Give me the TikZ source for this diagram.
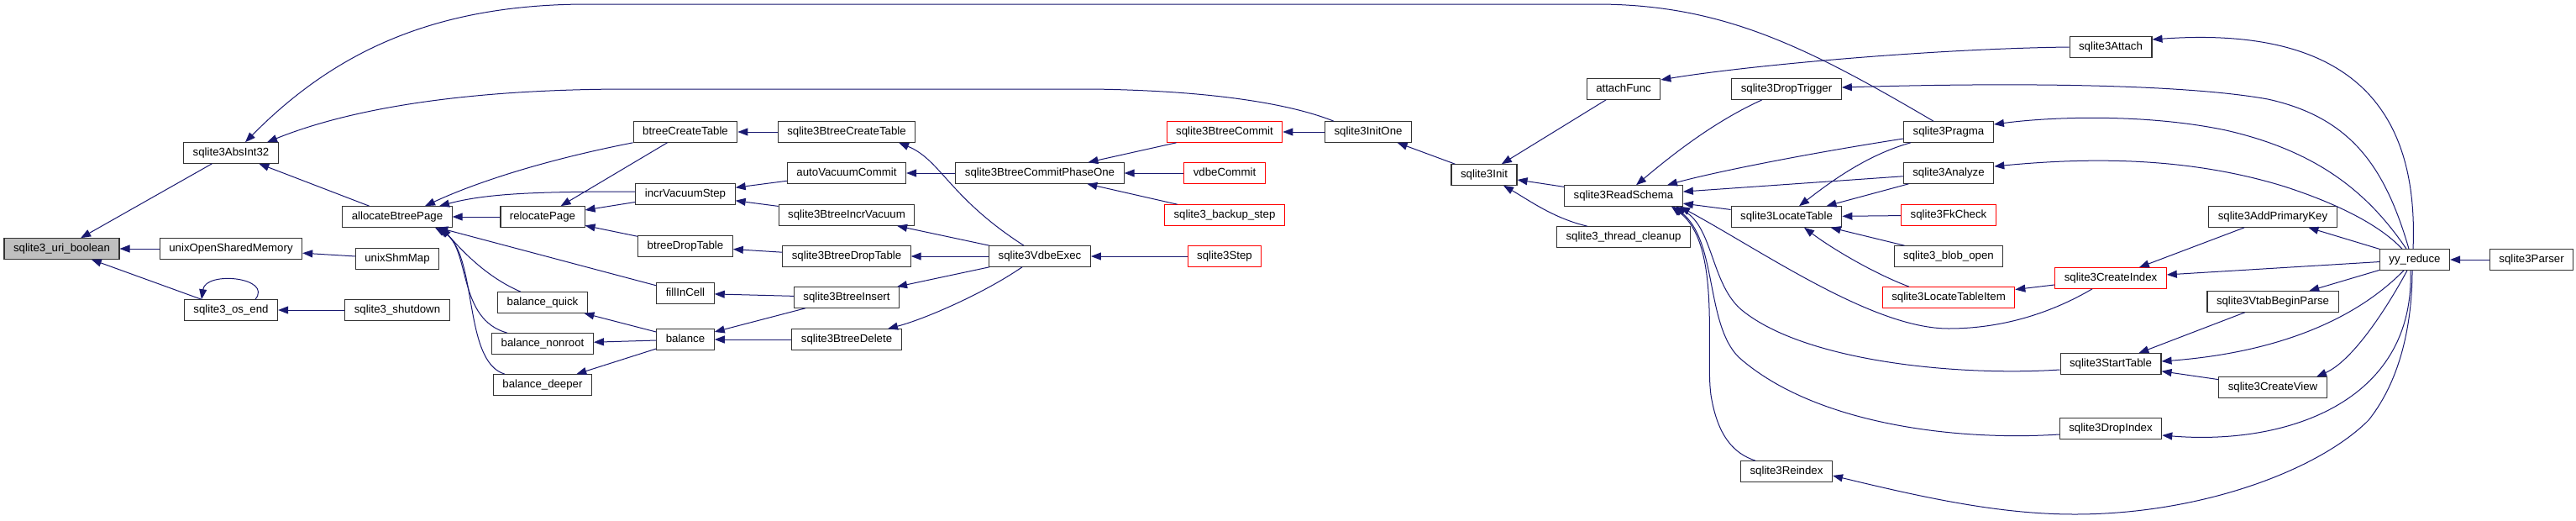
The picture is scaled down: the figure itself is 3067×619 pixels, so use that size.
\documentclass[tikz,border=0pt]{standalone}
\usepackage{fontspec}
\setmainfont{Liberation Sans}
\setsansfont{Liberation Sans}
\usetikzlibrary{arrows.meta}
\definecolor{ink}{HTML}{333333}
\definecolor{edgeblue}{HTML}{191970}
\definecolor{hotred}{HTML}{FF0000}
\definecolor{current}{HTML}{BFBFBF}

\begin{document}
\begin{tikzpicture}[
    x=1pt, y=-1pt,
    font={\sffamily\fontsize{13.25}{15}\selectfont},
    fn/.style={
        draw=ink,
        line width=1.1pt,
        fill=white,
        inner xsep=11pt,
        inner ysep=0pt,
        minimum height=24.5pt,
        text height=9.6pt,
        text depth=2.8pt
    },
    redfn/.style={fn, draw=hotred},
    curfn/.style={fn, fill=current},
    call/.style={draw=edgeblue, line width=1pt, {Triangle[length=12pt,width=9pt]}-}
]
\useasboundingbox (0,0) rectangle (3067,619);

% Function boxes, one column per rank.
\node[curfn] (uri) at (73.5,296) {sqlite3\_uri\_boolean};

\node[fn] (absint) at (275,182) {sqlite3AbsInt32};
\node[fn] (unixosm) at (275,296) {unixOpenSharedMemory};
\node[fn] (osend) at (275,369) {sqlite3\_os\_end};

\node[fn] (alloc) at (473,258) {allocateBtreePage};
\node[fn] (shmmap) at (473,308) {unixShmMap};
\node[fn] (shutdown) at (473,369) {sqlite3\_shutdown};

\node[fn] (relocate) at (646,258) {relocatePage};
\node[fn] (bquick) at (646,360) {balance\_quick};
\node[fn] (bnonroot) at (646,409) {balance\_nonroot};
\node[fn] (bdeeper) at (646,458) {balance\_deeper};

\node[fn] (bcreate) at (816,157) {btreeCreateTable};
\node[fn] (incrvac) at (816,231) {incrVacuumStep};
\node[fn] (bdrop) at (816,293) {btreeDropTable};
\node[fn] (fillcell) at (816,349) {fillInCell};
\node[fn] (balance) at (816,404) {balance};

\node[fn] (sbcreate) at (1008,157) {sqlite3BtreeCreateTable};
\node[fn] (autovac) at (1008,206) {autoVacuumCommit};
\node[fn] (sbincr) at (1008,256) {sqlite3BtreeIncrVacuum};
\node[fn] (sbdrop) at (1008,305) {sqlite3BtreeDropTable};
\node[fn] (sbinsert) at (1008,354) {sqlite3BtreeInsert};
\node[fn] (sbdelete) at (1008,404) {sqlite3BtreeDelete};

\node[fn] (phaseone) at (1238,206) {sqlite3BtreeCommitPhaseOne};
\node[fn] (vdbeexec) at (1238,305) {sqlite3VdbeExec};

\node[redfn] (bcommit) at (1458,157) {sqlite3BtreeCommit};
\node[redfn] (vdbecommit) at (1458,206) {vdbeCommit};
\node[redfn] (backup) at (1458,256) {sqlite3\_backup\_step};
\node[redfn] (step) at (1458,305) {sqlite3Step};

\node[fn] (initone) at (1629,157) {sqlite3InitOne};
\node[fn] (init) at (1767,208) {sqlite3Init};

\node[fn] (attachfn) at (1933,106) {attachFunc};
\node[fn] (rschema) at (1933,233) {sqlite3ReadSchema};
\node[fn] (cleanup) at (1933,282) {sqlite3\_thread\_cleanup};

\node[fn] (droptrig) at (2127,106) {sqlite3DropTrigger};
\node[fn] (locate) at (2127,258) {sqlite3LocateTable};
\node[fn] (reindex) at (2127,561) {sqlite3Reindex};

\node[fn] (pragma) at (2320,157) {sqlite3Pragma};
\node[fn] (analyze) at (2320,206) {sqlite3Analyze};
\node[redfn] (fkcheck) at (2320,256) {sqlite3FkCheck};
\node[fn] (blobopen) at (2320,305) {sqlite3\_blob\_open};
\node[redfn] (locitem) at (2320,354) {sqlite3LocateTableItem};

\node[fn] (attach) at (2513,56) {sqlite3Attach};
\node[redfn] (createidx) at (2513,331) {sqlite3CreateIndex};
\node[fn] (starttab) at (2513,433) {sqlite3StartTable};
\node[fn] (dropidx) at (2513,510) {sqlite3DropIndex};

\node[fn] (addpk) at (2706,258) {sqlite3AddPrimaryKey};
\node[fn] (vtabparse) at (2706,359) {sqlite3VtabBeginParse};
\node[fn] (createview) at (2706,461) {sqlite3CreateView};

\node[fn] (yyreduce) at (2875,309) {yy\_reduce};
\node[fn] (parser) at (3014,309) {sqlite3Parser};

% Callers of sqlite3_uri_boolean and its neighbours.
\draw[call] (uri) -- (absint);
\draw[call] (uri) -- (unixosm);
\draw[call] (uri) -- (osend);
\draw[call] ([xshift=-35pt]osend.north) .. controls (245,322) and (325,330) .. ([xshift=29pt]osend.north);
\draw[call] (osend) -- (shutdown);
\draw[call] (unixosm) -- (shmmap);
\draw[call] (absint) -- (alloc);
\draw[call] ([xshift=17pt]absint.north) .. controls (400,60) and (520,5) .. (700,5) -- (1900,5)
    .. controls (2050,5) and (2150,55) .. ([xshift=-18pt]pragma.north);
\draw[call] ([xshift=43pt]absint.north) .. controls (420,128) and (560,106) .. (750,106) -- (1300,106)
    .. controls (1450,108) and (1540,125) .. ([xshift=-41pt]initone.north);

% Callers of allocateBtreePage.
\draw[call] ([xshift=33pt]alloc.north) .. controls (560,220) and (640,192) .. (bcreate.south west);
\draw[call] ([xshift=50pt]alloc.north) .. controls (580,230) and (640,228) .. ([yshift=3pt]incrvac.west);
\draw[call] (alloc) -- (relocate);
\draw[call] (alloc) -- (fillcell);
\draw[call] ([xshift=52pt]alloc.south) .. controls (545,292) and (575,328) .. ([xshift=-26pt]bquick.north);
\draw[call] ([xshift=49pt]alloc.south) .. controls (560,300) and (545,380) .. ([xshift=-42pt]bnonroot.north);
\draw[call] ([xshift=45pt]alloc.south) .. controls (570,300) and (550,430) .. ([xshift=-45pt]bdeeper.north);

% relocatePage and the balance family.
\draw[call] (relocate) -- (bcreate);
\draw[call] (relocate) -- (incrvac);
\draw[call] (relocate) -- (bdrop);
\draw[call] (bquick) -- (balance);
\draw[call] (bnonroot) -- (balance);
\draw[call] (bdeeper) -- (balance);

% Btree layer.
\draw[call] (bcreate) -- (sbcreate);
\draw[call] (incrvac) -- (autovac);
\draw[call] (incrvac) -- (sbincr);
\draw[call] (bdrop) -- (sbdrop);
\draw[call] (fillcell) -- (sbinsert);
\draw[call] (balance) -- (sbinsert);
\draw[call] (balance) -- (sbdelete);

% VDBE and commit path.
\draw[call] (autovac) -- (phaseone);
\draw[call] ([xshift=62pt]sbcreate.south) .. controls (1120,190) and (1130,235) .. ([xshift=-19pt]vdbeexec.north);
\draw[call] (sbincr) -- (vdbeexec);
\draw[call] (sbdrop) -- (vdbeexec);
\draw[call] (sbinsert) -- (vdbeexec);
\draw[call] ([xshift=49pt]sbdelete.north) .. controls (1100,380) and (1170,350) .. ([xshift=-21pt]vdbeexec.south);
\draw[call] (phaseone) -- (bcommit);
\draw[call] (phaseone) -- (vdbecommit);
\draw[call] (phaseone) -- (backup);
\draw[call] (vdbeexec) -- (step);
\draw[call] (bcommit) -- (initone);
\draw[call] (initone) -- (init);

% Schema initialisation.
\draw[call] (init) -- (attachfn);
\draw[call] (init) -- (rschema);
\draw[call] ([xshift=23pt]init.south) .. controls (1820,238) and (1850,260) .. ([xshift=-43pt]cleanup.north);
\draw[call] ([yshift=11pt]attachfn.east) .. controls (2080,78) and (2300,58) .. (attach.west);

% Callers of sqlite3ReadSchema.
\draw[call] ([xshift=15pt]rschema.north) .. controls (1990,185) and (2040,145) .. ([xshift=-29pt]droptrig.south);
\draw[call] ([xshift=52pt]rschema.north) .. controls (2040,205) and (2150,183) .. ([yshift=-8pt]pragma.west);
\draw[call] (rschema) -- (analyze);
\draw[call] (rschema) -- (locate);
\draw[call] ([xshift=67pt]rschema.south) .. controls (2100,300) and (2230,391) .. (2320,391)
    .. controls (2400,391) and (2460,362) .. ([xshift=-22pt]createidx.south);
\draw[call] ([xshift=62pt]rschema.south) .. controls (2040,270) and (2037,340) .. (2075,370)
    .. controls (2150,430) and (2330,448) .. ([yshift=-7pt]starttab.west);
\draw[call] ([xshift=59pt]rschema.south) .. controls (2045,285) and (2030,385) .. (2070,425)
    .. controls (2160,505) and (2330,525) .. ([yshift=-7pt]dropidx.west);
\draw[call] ([xshift=57pt]rschema.south) .. controls (2050,290) and (2030,420) .. (2037,470)
    .. controls (2045,520) and (2065,540) .. ([xshift=-37pt]reindex.north);

% Callers of sqlite3LocateTable.
\draw[call] ([xshift=15pt]locate.north) .. controls (2175,220) and (2220,185) .. ([xshift=-45pt]pragma.south);
\draw[call] (locate) -- (analyze);
\draw[call] (locate) -- (fkcheck);
\draw[call] (locate) -- (blobopen);
\draw[call] ([xshift=21pt]locate.south) .. controls (2180,295) and (2230,325) .. ([xshift=-47pt]locitem.north);
\draw[call] (locitem) -- (createidx);

% Parser actions in yy_reduce.
\draw[call] ([yshift=9pt]attach.east) .. controls (2800,30) and (2880,130) .. ([xshift=-2pt]yyreduce.north);
\draw[call] ([yshift=2pt]droptrig.east) .. controls (2400,98) and (2600,100) .. (2700,118)
    .. controls (2800,140) and (2840,200) .. ([xshift=-7pt]yyreduce.north);
\draw[call] ([yshift=9pt]pragma.east) .. controls (2450,138) and (2560,136) .. (2650,155)
    .. controls (2760,180) and (2820,230) .. ([xshift=-10pt]yyreduce.north);
\draw[call] ([yshift=8pt]analyze.east) .. controls (2480,188) and (2600,185) .. (2720,222)
    .. controls (2800,248) and (2840,275) .. ([xshift=-15pt]yyreduce.north);
\draw[call] (addpk) -- (yyreduce);
\draw[call] (createidx) -- (yyreduce);
\draw[call] (vtabparse) -- (yyreduce);
\draw[call] ([yshift=3pt]starttab.east) .. controls (2680,422) and (2790,395) .. ([xshift=-13pt]yyreduce.south);
\draw[call] ([xshift=52pt]createview.north) .. controls (2800,430) and (2840,370) .. ([xshift=-9pt]yyreduce.south);
\draw[call] ([yshift=-8pt]dropidx.east) .. controls (2720,530) and (2875,480) .. ([xshift=-5pt]yyreduce.south);
\draw[call] ([yshift=-5pt]reindex.east) .. controls (2290,592) and (2380,612) .. (2470,612)
    .. controls (2620,612) and (2760,560) .. (2820,500)
    .. controls (2860,450) and (2872,380) .. ([xshift=-3pt]yyreduce.south);
\draw[call] (createidx) -- (addpk);
\draw[call] (starttab) -- (vtabparse);
\draw[call] (starttab) -- (createview);
\draw[call] (yyreduce) -- (parser);

\end{tikzpicture}
\end{document}
